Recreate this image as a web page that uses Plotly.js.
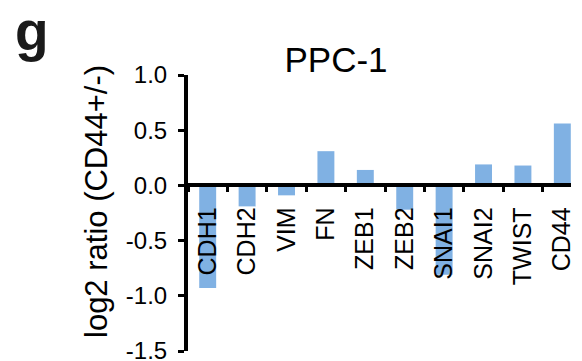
<!DOCTYPE html>
<html>
<head>
<meta charset="utf-8">
<script src="https://cdn.plot.ly/plotly-3.0.1.min.js"></script>
<style>
html,body{margin:0;padding:0;background:#fff;}
#chart{width:582px;height:361px;}
</style>
</head>
<body>
<div id="chart"></div>
<script>
const categories = ["CDH1", "CDH2", "VIM", "FN", "ZEB1", "ZEB2", "SNAI1", "SNAI2", "TWIST", "CD44"];
const log2Ratio = [-0.93, -0.19, -0.09, 0.31, 0.14, -0.22, -0.81, 0.19, 0.18, 0.56];
const yTickVals = [-1.5, -1.0, -0.5, 0.0, 0.5, 1.0];
const yTickText = ["-1.5", "-1.0", "-0.5", "0.0", "0.5", "1.0"];
const chartTitle = "PPC-1";
const yTitle = "log2 ratio (CD44+/-)";
const panelLabel = "g";

const FONT = "'Liberation Sans', Arial, Helvetica, sans-serif";
const W = 582, H = 361;
const M = {l: 188, r: 11, t: 75, b: 10};
const pw = W - M.l - M.r, ph = H - M.t - M.b;
const px2x = p => (p - M.l) / pw;
const py2y = p => (H - M.b - p) / ph;

const trace = {
  type: "bar",
  x: categories,
  y: log2Ratio,
  width: 0.43,
  marker: {color: "#80b1e3", line: {width: 0}},
  hoverinfo: "x+y"
};

const layout = {
  width: W, height: H,
  margin: M,
  paper_bgcolor: "#fff",
  plot_bgcolor: "rgba(0,0,0,0)",
  showlegend: false,
  font: {family: FONT, color: "#000"},
  title: {
    text: chartTitle,
    font: {family: FONT, size: 35, color: "#000"},
    xref: "container", yref: "container",
    x: 336 / W, xanchor: "center",
    y: 1 - 60 / H, yanchor: "middle"
  },
  xaxis: {
    type: "category",
    range: [-0.5, 9.22],
    anchor: "free",
    position: 0.6,
    showline: true, linewidth: 4, linecolor: "#000",
    showgrid: false, zeroline: false,
    ticks: "outside", tickson: "boundaries",
    ticklen: 5, tickwidth: 3, tickcolor: "#000",
    tickangle: -90,
    tickfont: {family: FONT, size: 25, color: "#000"},
    ticklabelstandoff: 10,
    ticklabeloverflow: "allow",
    fixedrange: true
  },
  yaxis: {
    range: [-1.5, 1.0],
    showline: true, linewidth: 4, linecolor: "#000",
    showgrid: false, zeroline: false,
    ticks: "outside", ticklen: 6, tickwidth: 3, tickcolor: "#000",
    tickvals: yTickVals, ticktext: yTickText,
    tickfont: {family: FONT, size: 24, color: "#000"},
    ticklabelstandoff: 6,
    ticklabeloverflow: "allow",
    fixedrange: true
  },
  annotations: [
    {
      text: yTitle, textangle: -90,
      xref: "paper", yref: "paper",
      x: px2x(96), y: py2y(202),
      xanchor: "center", yanchor: "middle",
      showarrow: false,
      font: {family: FONT, size: 31, color: "#000"}
    },
    {
      text: "<b>" + panelLabel + "</b>",
      xref: "paper", yref: "paper",
      x: px2x(32), y: py2y(31),
      xanchor: "center", yanchor: "middle",
      showarrow: false,
      font: {family: FONT, size: 55, color: "#1a1a1a"}
    }
  ]
};

Plotly.newPlot("chart", [trace], layout, {displayModeBar: false, staticPlot: true});
</script>
</body>
</html>
